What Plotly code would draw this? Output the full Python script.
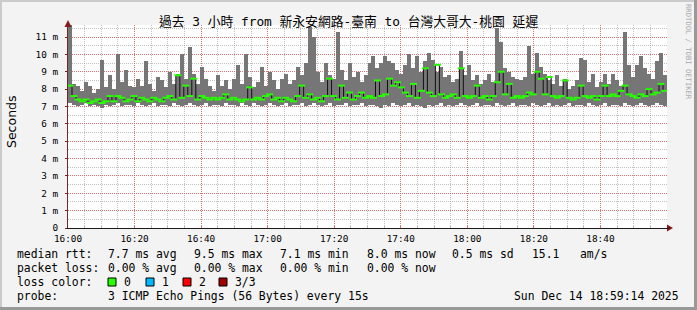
import plotly.graph_objects as go
import pandas as pd

# ---- data (ms) ----
rtt_max = [
    11.7, 8.3, 8.2, 7.9, 8.4, 8.2, 7.8, 8.0, 9.7, 8.1, 8.8, 8.0, 10.0, 8.4, 9.1, 8.2, 8.1, 8.6, 8.2, 9.6,
    8.3, 7.9, 8.7, 8.5, 8.1, 9.0, 8.3, 8.9, 10.0, 8.6, 10.4, 8.9, 8.3, 9.3, 8.6, 8.2, 7.9, 8.8,
    8.2, 8.5, 8.0, 8.6, 9.4, 8.3, 10.0, 8.7, 8.1, 8.4, 9.3, 8.2, 9.0, 8.5, 8.0, 8.6, 8.9, 8.3, 8.5, 9.3,
    8.8, 9.5, 11.6, 11.0, 9.0, 8.4, 9.5, 8.8, 8.6, 11.3, 9.1, 8.5, 9.5, 8.7, 9.0, 8.4, 8.8, 9.5,
    9.9, 9.2, 9.5, 9.9, 9.6, 9.5, 9.1, 8.9, 9.4, 10.0, 9.2, 9.9, 9.0, 9.6, 10.1, 9.7, 9.0, 9.3, 8.7, 8.8,
    8.4, 8.6, 10.2, 8.8, 9.4, 8.5, 8.8, 8.3, 8.5, 8.9, 8.4, 11.5, 10.7, 9.2, 9.0, 8.7, 8.6, 8.5,
    8.7, 10.5, 8.9, 10.1, 9.3, 8.9, 8.5, 8.3, 8.8, 8.2, 8.6, 8.0, 8.2, 8.5, 9.8, 9.7, 8.4, 8.9, 8.1, 8.4,
    8.9, 8.3, 8.9, 8.5, 8.2, 11.3, 9.4, 8.7, 9.4, 9.9, 9.2, 8.9, 8.6, 9.6, 10.1, 8.8,
]
rtt_median = [
    8.2, 7.6, 7.4, 7.3, 7.4, 7.2, 7.3, 7.4, 7.2, 7.3, 7.6, 7.3, 7.6, 7.5, 7.3, 7.4, 7.6, 7.3, 7.5, 7.4,
    7.3, 7.5, 7.4, 7.3, 7.5, 7.6, 7.4, 8.8, 7.5, 8.2, 7.6, 8.6, 7.4, 7.6, 7.5, 7.4, 7.5, 7.4,
    7.5, 7.7, 7.4, 7.5, 7.4, 7.3, 7.4, 8.1, 7.4, 7.5, 7.4, 7.6, 7.7, 7.4, 7.5, 7.3, 7.5, 7.4, 7.3, 7.6,
    8.2, 7.5, 7.7, 7.4, 7.5, 7.3, 7.6, 8.6, 7.6, 7.4, 8.2, 7.5, 7.8, 7.4, 7.6, 7.8, 7.5, 7.6,
    7.5, 8.5, 7.6, 7.7, 8.6, 8.2, 8.4, 8.1, 7.8, 7.6, 8.3, 7.5, 7.9, 9.2, 7.8, 7.6, 9.4, 7.7, 7.5, 7.6,
    7.7, 7.5, 9.2, 7.6, 7.5, 7.6, 8.2, 7.5, 7.6, 7.4, 7.6, 8.4, 9.0, 7.7, 8.3, 7.5, 7.6, 7.5,
    7.6, 7.8, 7.7, 9.0, 8.6, 7.7, 8.7, 7.6, 7.5, 7.6, 8.5, 7.5, 7.4, 7.5, 8.2, 7.6, 7.5, 7.6, 7.4, 7.6,
    8.2, 7.6, 7.7, 7.6, 7.9, 8.2, 7.7, 7.6, 7.5, 7.7, 7.6, 8.0, 7.7, 7.8, 8.3, 7.9,
]
rtt_min = [
    7.2, 7.1, 7.0, 7.1, 7.2, 7.0, 7.1, 7.0, 6.9, 7.1, 7.0, 7.1, 7.2, 7.0, 7.1, 7.1, 7.0, 7.2, 7.1, 7.0,
    7.1, 7.2, 7.0, 7.1, 7.1, 7.0, 7.2, 7.1, 7.0, 7.1, 7.2, 7.1, 7.0, 7.1, 7.2, 7.0, 7.1, 7.1,
    7.0, 7.2, 7.1, 7.1, 7.0, 7.2, 7.1, 7.0, 7.2, 7.1, 7.0, 7.1, 7.2, 7.1, 7.0, 7.1, 7.2, 7.0, 7.1, 7.1,
    7.2, 7.0, 7.1, 7.2, 7.1, 7.0, 7.1, 7.2, 7.0, 7.1, 7.1, 7.2, 7.0, 7.1, 7.1, 7.2, 7.0, 7.1,
    7.1, 7.0, 6.9, 7.1, 7.0, 7.2, 7.1, 7.0, 7.1, 7.2, 7.0, 7.1, 7.0, 6.9, 7.1, 7.0, 7.1, 7.2, 7.0, 7.1,
    7.0, 7.1, 7.2, 7.1, 7.0, 7.1, 7.2, 7.0, 7.1, 7.1, 7.0, 7.2, 7.1, 7.0, 7.1, 7.2, 7.0, 7.1,
    7.1, 7.0, 7.2, 7.1, 7.0, 7.1, 7.2, 7.0, 7.1, 7.0, 7.1, 7.2, 7.0, 7.1, 7.1, 7.0, 7.2, 7.1, 7.0, 7.1,
    7.2, 7.0, 7.1, 7.1, 7.0, 7.2, 7.1, 7.0, 7.1, 7.2, 7.1, 7.0, 7.1, 7.2, 7.1, 7.0,
]
assert len(rtt_max) == len(rtt_median) == len(rtt_min) == 150

step_s = 72
times = pd.date_range("2025-12-14 16:00:36", periods=len(rtt_max), freq=f"{step_s}s")

x_tick_labels = ["16:00", "16:20", "16:40", "17:00", "17:20", "17:40", "18:00", "18:20", "18:40"]
y_ticks = [i * 0.001 for i in range(12)]
y_tick_text = ["0"] + [f"{i} m" for i in range(1, 12)]

title_text = "過去 3 小時 from 新永安網路-臺南 to 台灣大哥大-桃園 延遲"
stat_rows = [
    ("median rtt:", ["7.7 ms avg", "9.5 ms max", "7.1 ms min", "8.0 ms now", "0.5 ms sd", "15.1", "am/s"]),
    ("packet loss:", ["0.00 % avg", "0.00 % max", "0.00 % min", "0.00 % now"]),
]
stat_cols = [107, 193, 279, 366, 451, 531, 579]
loss_labels = ["0", "1", "2", "3/3"]
loss_colors = ["#26ff00", "#00b8ff", "#ff0000", "#a10000"]
probe_text = "3 ICMP Echo Pings (56 Bytes) every 15s"
stamp_text = "Sun Dec 14 18:59:14 2025"

# ---- geometry helpers (pixel -> paper) ----
W, H = 697, 310
L, R, T, B = 68, 667, 25, 228
def px(x): return (x - L) / (R - L)
def py(y): return (B - y) / (B - T)

mono = "DejaVu Sans Mono, Noto Sans CJK TC"
smax = [v / 1000 for v in rtt_max]
smin = [v / 1000 for v in rtt_min]
smed = [v / 1000 for v in rtt_median]
x_tick_vals = [pd.Timestamp(f"2025-12-14 {t}") for t in x_tick_labels]

fig = go.Figure()
fig.add_trace(go.Bar(
    x=times, y=[a - b for a, b in zip(smax, smin)], base=smin,
    width=step_s * 1000, marker=dict(color="#767676", line=dict(width=0)),
    hoverinfo="skip", showlegend=False))
fig.add_trace(go.Scatter(
    x=times, y=smed, mode="lines", line=dict(color="#111111", width=1, shape="hvh"),
    hoverinfo="skip", showlegend=False))
fig.add_trace(go.Scatter(
    x=times, y=smed, mode="markers",
    marker=dict(symbol="line-ew", size=5, line=dict(color="#26ff00", width=2)),
    hoverinfo="skip", showlegend=False))

fig.update_layout(
    width=W, height=H, margin=dict(l=L, r=W - R, t=T, b=H - B),
    paper_bgcolor="#f3f3f3", plot_bgcolor="#ffffff",
    bargap=0, showlegend=False,
    font=dict(family=mono, size=9.4, color="#000000"),
)
fig.update_xaxes(
    type="date", range=["2025-12-14 16:00", "2025-12-14 19:00"],
    tickvals=x_tick_vals, ticktext=x_tick_labels,
    showgrid=True, gridcolor="rgba(220,90,90,0.75)", griddash="1px,1px", gridwidth=1,
    minor=dict(tick0="2025-12-14 16:00", dtick=5 * 60 * 1000, showgrid=True,
               gridcolor="rgba(150,150,150,0.6)",
               griddash="1px,1px", ticks="inside", ticklen=2, tickcolor="#bbbbbb"),
    ticks="inside", ticklen=3, tickcolor="#e07070",
    showline=True, linecolor="#1a1a1a", linewidth=1,
    zeroline=False, fixedrange=True, ticklabelstandoff=2,
    tickfont=dict(family=mono, size=9.4),
)
fig.update_yaxes(
    range=[0, (B - T) / 17.36 / 1000],
    tickvals=y_ticks, ticktext=y_tick_text,
    showgrid=True, gridcolor="rgba(220,90,90,0.75)", griddash="1px,1px", gridwidth=1,
    minor=dict(dtick=0.0005, showgrid=True, gridcolor="rgba(150,150,150,0.6)",
               griddash="1px,1px"),
    ticks="outside", ticklen=2, tickcolor="#7a2020",
    showline=True, linecolor="#6b2a2a", linewidth=1,
    zeroline=False, fixedrange=True, ticklabelstandoff=5,
    tickfont=dict(family=mono, size=9.4),
)

ann = []
def text(x, y, s, size=11.4, anchor="left", family=mono, color="#000000", angle=0):
    ann.append(dict(x=px(x), y=py(y), xref="paper", yref="paper", text=s, showarrow=False,
                    xanchor=anchor, yanchor="middle", borderpad=0, textangle=angle,
                    font=dict(family=family, size=size, color=color)))

text(348, 21, title_text, size=12.8, anchor="center")
text(11, 122, "Seconds", size=12.5, anchor="center", family="DejaVu Sans", angle=-90)
text(688, 52, "RRDTOOL / TOBI OETIKER", size=7.2, anchor="center", color="#aaaaaa", angle=90)

row_y = [254, 268, 282, 296]
for (label, vals), yy in zip(stat_rows, row_y[:2]):
    text(16, yy, label)
    for v, cx in zip(vals, stat_cols):
        text(cx, yy, v)
text(16, row_y[2], "loss color:")
box_x = [108, 146, 183, 219]
lab_x = [123, 161, 198, 234]
shapes = []
for c, bx, lx, lab in zip(loss_colors, box_x, lab_x, loss_labels):
    shapes.append(dict(type="rect", xref="paper", yref="paper",
                       x0=px(bx), x1=px(bx + 8), y0=py(row_y[2] + 4), y1=py(row_y[2] - 4),
                       fillcolor=c, line=dict(color="#000000", width=1)))
    text(lx, row_y[2], lab)
text(16, row_y[3], "probe:")
text(107, row_y[3], probe_text)
text(513, row_y[3], stamp_text)

# axis arrows
shapes.append(dict(type="path", xref="paper", yref="paper",
                   path=f"M {px(667)},{py(224.5)} L {px(673)},{py(228)} L {px(667)},{py(231.5)} Z",
                   fillcolor="#8b1a1a", line=dict(width=0)))
shapes.append(dict(type="line", xref="paper", yref="paper",
                   x0=px(667), x1=px(670), y0=py(228), y1=py(228), line=dict(color="#1a1a1a", width=1)))
shapes.append(dict(type="path", xref="paper", yref="paper",
                   path=f"M {px(64.5)},{py(27)} L {px(68)},{py(20)} L {px(71.5)},{py(27)} Z",
                   fillcolor="#8b1a1a", line=dict(width=0)))
# frame shading
shapes.append(dict(type="rect", xref="paper", yref="paper", x0=px(0), x1=px(W), y0=py(0), y1=py(2),
                   fillcolor="#cbcbcb", line=dict(width=0)))
shapes.append(dict(type="rect", xref="paper", yref="paper", x0=px(0), x1=px(2), y0=py(0), y1=py(H),
                   fillcolor="#cbcbcb", line=dict(width=0)))
shapes.append(dict(type="rect", xref="paper", yref="paper", x0=px(W - 3), x1=px(W), y0=py(0), y1=py(H),
                   fillcolor="#999999", line=dict(width=0)))
shapes.append(dict(type="rect", xref="paper", yref="paper", x0=px(0), x1=px(W), y0=py(H - 3), y1=py(H),
                   fillcolor="#999999", line=dict(width=0)))

fig.update_layout(annotations=ann, shapes=shapes)
fig.write_html("out.html")
